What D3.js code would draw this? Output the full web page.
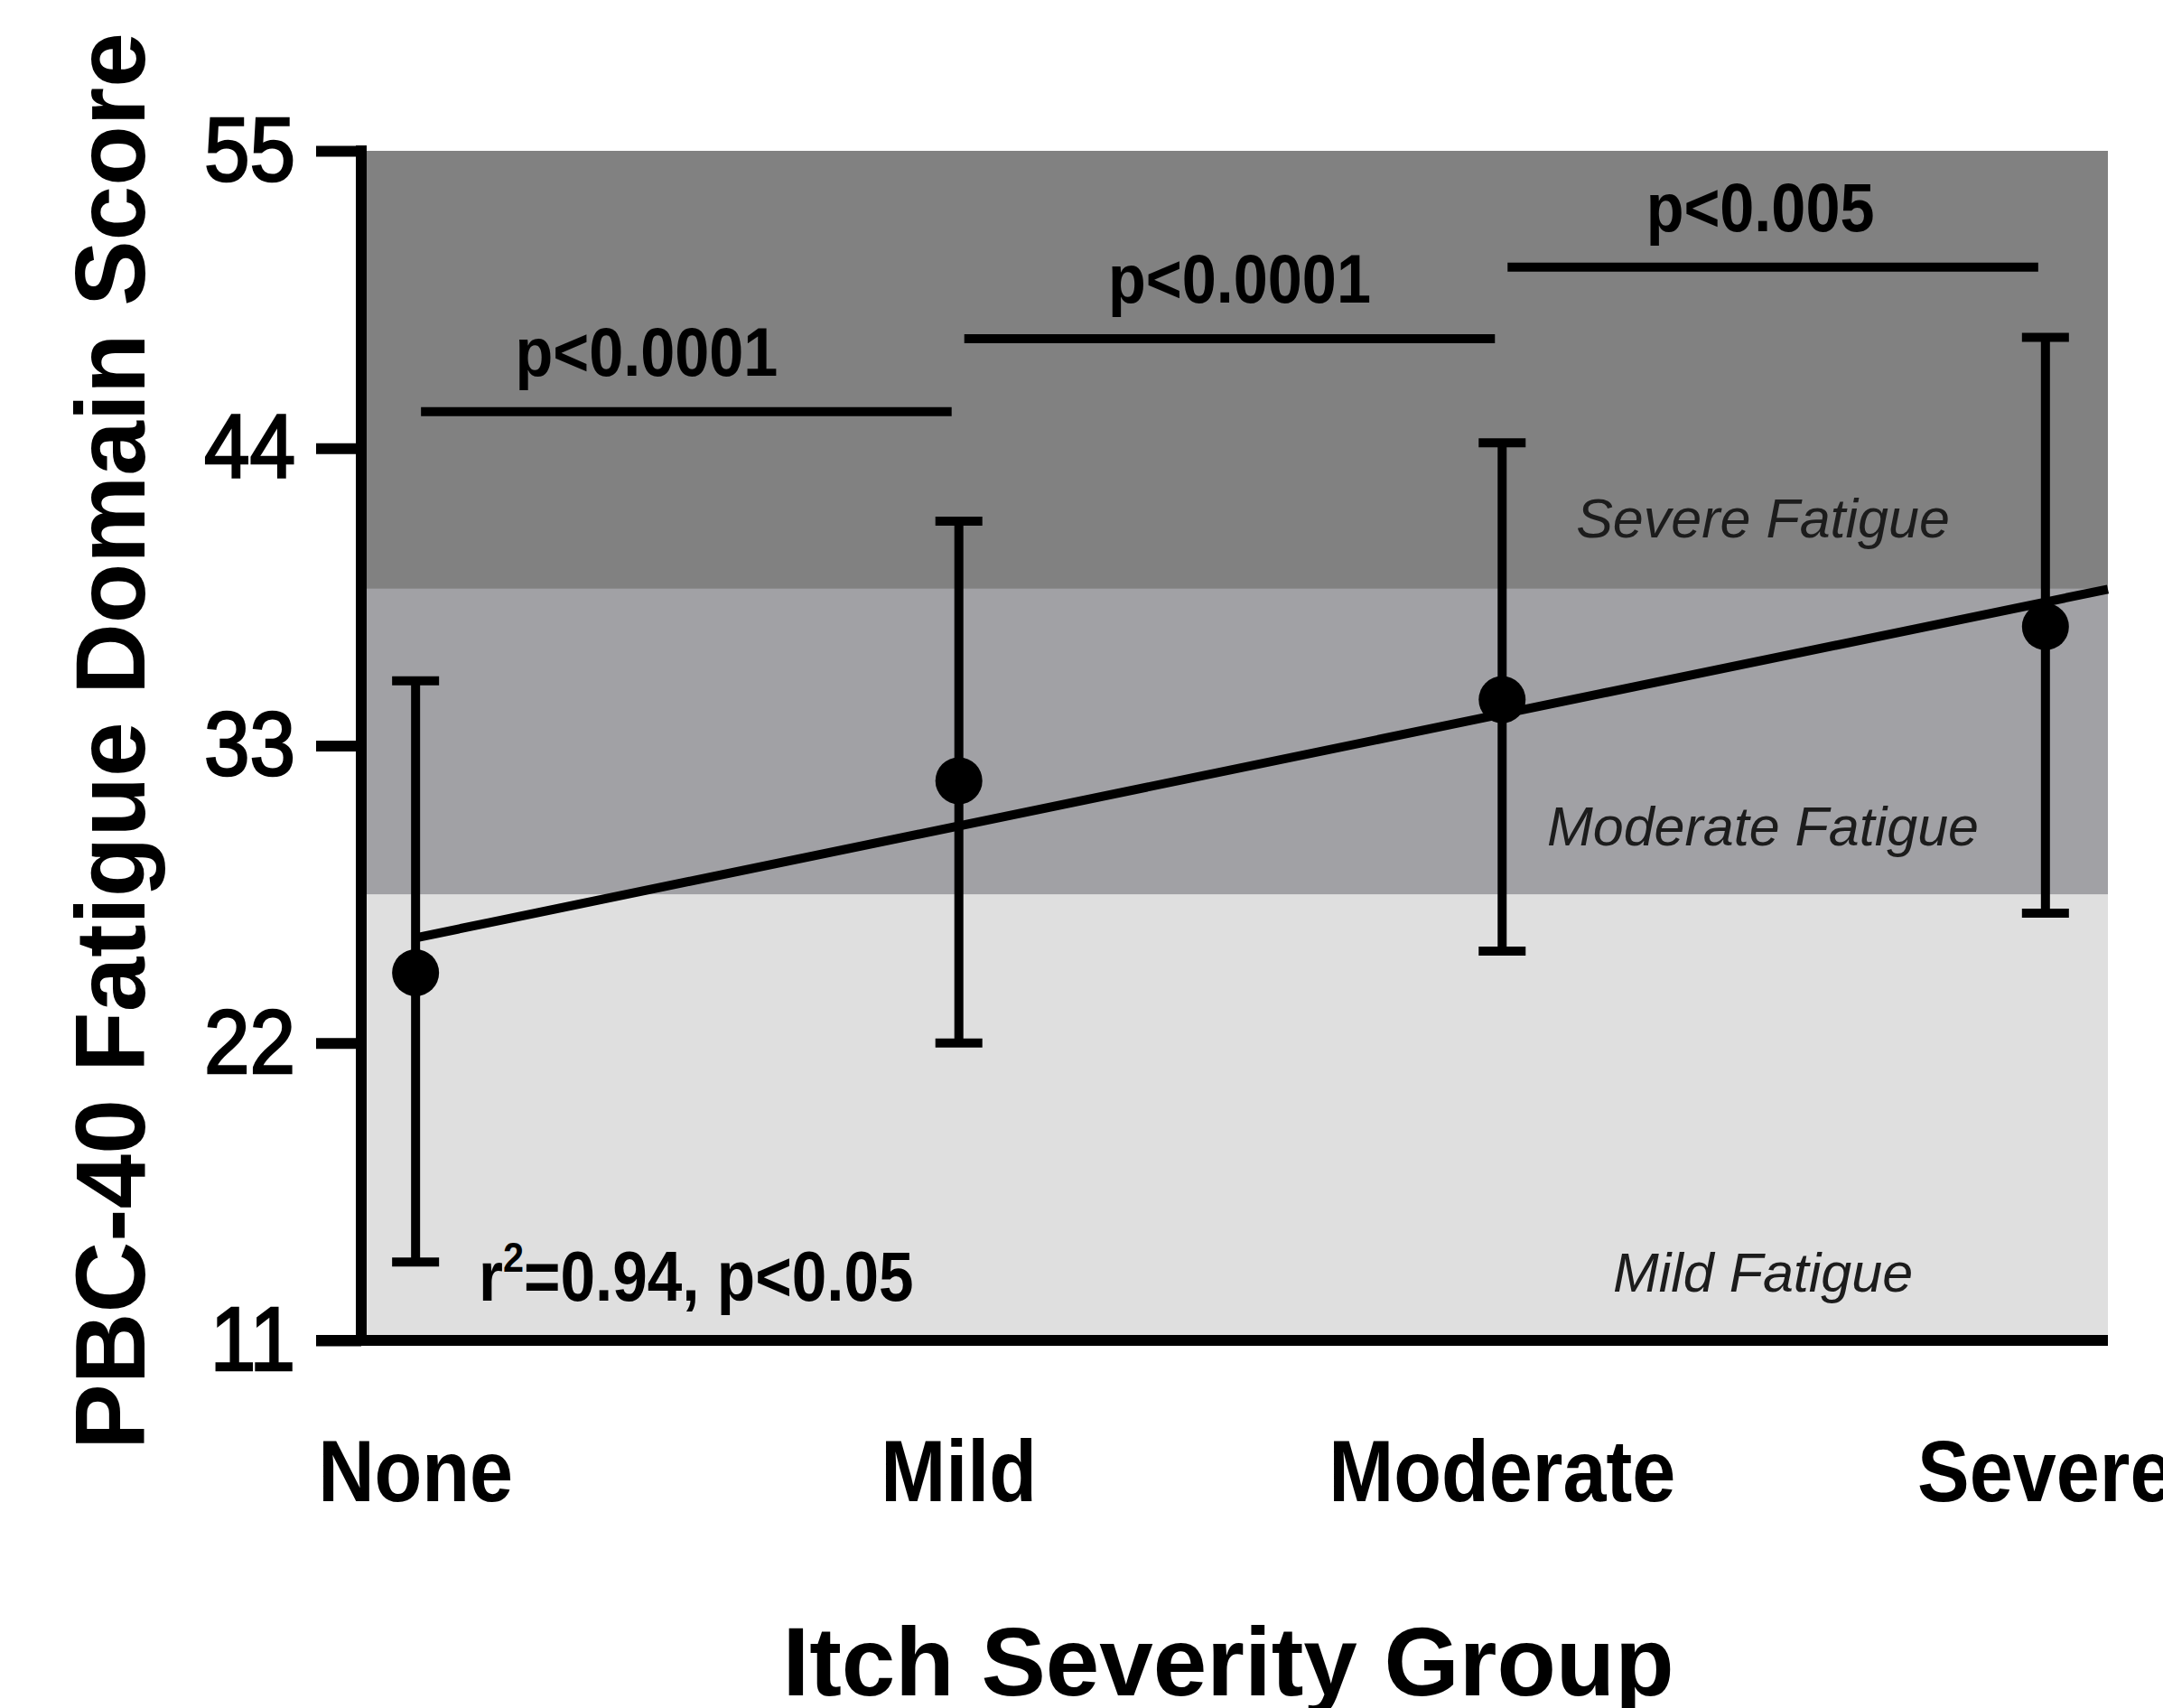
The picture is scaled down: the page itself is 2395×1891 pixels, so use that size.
<!DOCTYPE html>
<html>
<head>
<meta charset="utf-8">
<script src="https://cdn.jsdelivr.net/npm/d3@7"></script>
<style>
  html, body { margin: 0; padding: 0; background: #fff; }
  svg { display: block; font-family: "Liberation Sans", Arial, sans-serif; }
</style>
</head>
<body>
<div id="chart"></div>
<script>
// values
const categories = ["None", "Mild", "Moderate", "Severe"];
const means = [24.6, 31.7, 34.7, 37.4];
const upper = [35.4, 41.3, 44.2, 48.1];
const lower = [13.9, 22.0, 25.4, 26.8];
const yTicks = [11, 22, 33, 44, 55];

const bandLabels = ["Mild Fatigue", "Moderate Fatigue", "Severe Fatigue"];
const bandEdges = [11, 27.5, 38.8, 55];

const compFrom = [0, 1, 2];
const compTo = [1, 2, 3];
const compLabels = ["p<0.0001", "p<0.0001", "p<0.005"];
const compLevel = [45.35, 48.05, 50.7];

const fitText = "=0.94, p<0.05";

// layout
const width = 2395, height = 1891;
const plotLeft = 400, plotRight = 2334, plotTop = 167, plotBottom = 1484;
const bandColors = ["#dfdfdf", "#a1a1a5", "#818181"];
const squeeze = 0.9; // the original lettering is a little narrow

const svg = d3.select("#chart").append("svg")
  .attr("width", width)
  .attr("height", height);

const x = d3.scaleLinear().domain([-0.1, 3.115]).range([plotLeft, plotRight]);
const y = d3.scaleLinear().domain([11, 55]).range([plotBottom, plotTop]);

// fatigue bands
svg.append("g").selectAll("rect")
  .data(bandLabels)
  .enter().append("rect")
  .attr("x", plotLeft)
  .attr("width", plotRight - plotLeft)
  .attr("y", (d, i) => y(bandEdges[i + 1]))
  .attr("height", (d, i) => y(bandEdges[i]) - y(bandEdges[i + 1]))
  .attr("fill", (d, i) => bandColors[i]);

const bandLabelY = [12.8, 29.3, 40.7];
svg.append("g").selectAll("text")
  .data(bandLabels)
  .enter().append("text")
  .attr("x", x(2.48))
  .attr("y", (d, i) => y(bandLabelY[i]))
  .attr("text-anchor", "middle")
  .attr("font-style", "italic")
  .attr("font-size", 61)
  .attr("fill", "#1c1c1c")
  .text(d => d);

// regression line through the means
const xs = means.map((d, i) => i);
const mx = d3.mean(xs), my = d3.mean(means);
const slope = d3.sum(xs, (d, i) => (d - mx) * (means[i] - my)) / d3.sum(xs, d => (d - mx) * (d - mx));
const intercept = my - slope * mx;
const fitX = [0, x.domain()[1]];
svg.append("path")
  .attr("d", d3.line().x(d => x(d)).y(d => y(intercept + slope * d))(fitX))
  .attr("stroke", "#000")
  .attr("stroke-width", 10)
  .attr("fill", "none");

// error bars
const err = svg.append("g").attr("stroke", "#000").attr("stroke-width", 10);
err.selectAll("line.v")
  .data(categories)
  .enter().append("line")
  .attr("class", "v")
  .attr("x1", (d, i) => x(i)).attr("x2", (d, i) => x(i))
  .attr("y1", (d, i) => y(upper[i])).attr("y2", (d, i) => y(lower[i]));
err.selectAll("line.cu")
  .data(categories)
  .enter().append("line")
  .attr("class", "cu")
  .attr("x1", (d, i) => x(i) - 26).attr("x2", (d, i) => x(i) + 26)
  .attr("y1", (d, i) => y(upper[i])).attr("y2", (d, i) => y(upper[i]));
err.selectAll("line.cl")
  .data(categories)
  .enter().append("line")
  .attr("class", "cl")
  .attr("x1", (d, i) => x(i) - 26).attr("x2", (d, i) => x(i) + 26)
  .attr("y1", (d, i) => y(lower[i])).attr("y2", (d, i) => y(lower[i]));

svg.append("g").selectAll("circle")
  .data(means)
  .enter().append("circle")
  .attr("cx", (d, i) => x(i))
  .attr("cy", d => y(d))
  .attr("r", 26)
  .attr("fill", "#000");

// comparison brackets
const compDx = [-45, 10, -15];
const comp = svg.append("g");
comp.selectAll("line")
  .data(compLabels)
  .enter().append("line")
  .attr("x1", (d, i) => x(compFrom[i]) + 6)
  .attr("x2", (d, i) => x(compTo[i]) - 8)
  .attr("y1", (d, i) => y(compLevel[i]))
  .attr("y2", (d, i) => y(compLevel[i]))
  .attr("stroke", "#000")
  .attr("stroke-width", 10);
comp.selectAll("text")
  .data(compLabels)
  .enter().append("text")
  .attr("transform", (d, i) =>
    `translate(${(x(compFrom[i]) + x(compTo[i])) / 2 + compDx[i]},${y(compLevel[i]) - 40}) scale(${squeeze},1)`)
  .attr("text-anchor", "middle")
  .attr("font-weight", "bold")
  .attr("font-size", 76)
  .text(d => d);

// r squared note
const note = svg.append("text")
  .attr("transform", `translate(530,1440) scale(${squeeze},1)`)
  .attr("font-weight", "bold")
  .attr("font-size", 77);
note.append("tspan").text("r");
note.append("tspan").attr("font-size", 46).attr("dy", -32).text("2");
note.append("tspan").attr("dy", 32).text(fitText);

// axes
const yAxis = svg.append("g")
  .attr("transform", `translate(${plotLeft},0)`)
  .call(d3.axisLeft(y).tickValues(yTicks).tickSize(50).tickPadding(20).tickFormat(d3.format("d")));
yAxis.select(".domain").remove();
yAxis.selectAll(".tick line").attr("stroke", "#000").attr("stroke-width", 12);
yAxis.selectAll(".tick text")
  .attr("font-family", "\"Liberation Sans\", Arial, sans-serif")
  .attr("font-size", 101)
  .attr("fill", "#000")
  .attr("stroke", "#000")
  .attr("stroke-width", 2.5)
  .attr("x", -73 / squeeze)
  .attr("transform", `scale(${squeeze},1)`);

svg.append("line")
  .attr("x1", plotLeft).attr("x2", plotLeft)
  .attr("y1", y(55) - 6).attr("y2", y(11) + 6)
  .attr("stroke", "#000").attr("stroke-width", 12);
svg.append("line")
  .attr("x1", plotLeft - 50).attr("x2", plotRight)
  .attr("y1", y(11)).attr("y2", y(11))
  .attr("stroke", "#000").attr("stroke-width", 12);

svg.append("g").selectAll("text")
  .data(categories)
  .enter().append("text")
  .attr("transform", (d, i) => `translate(${x(i)},1662) scale(${squeeze},1)`)
  .attr("text-anchor", "middle")
  .attr("font-weight", "bold")
  .attr("font-size", 96)
  .text(d => d);

svg.append("text")
  .attr("x", (plotLeft + plotRight) / 2 - 7)
  .attr("y", 1877)
  .attr("text-anchor", "middle")
  .attr("font-weight", "bold")
  .attr("font-size", 107)
  .text("Itch Severity Group");

svg.append("text")
  .attr("transform", `translate(160,${(plotTop + plotBottom) / 2 - 5}) rotate(-90)`)
  .attr("text-anchor", "middle")
  .attr("font-weight", "bold")
  .attr("font-size", 109)
  .text("PBC-40 Fatigue Domain Score");
</script>
</body>
</html>
